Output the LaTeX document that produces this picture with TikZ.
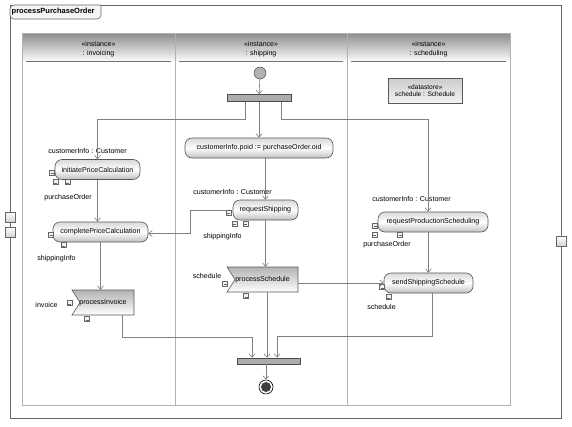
\documentclass[tikz,border=0pt]{standalone}
\usepackage{fontspec}
\setmainfont{Liberation Sans}
\usetikzlibrary{arrows.meta}
\begin{document}
\begin{tikzpicture}[x=1pt,y=-1pt,
  font=\fontsize{7.1}{9}\selectfont,
  conn/.style={draw=gray, line width=0.6pt},
  arr/.style={conn, -{Straight Barb[length=3.5pt,width=6pt]}},
  act/.style={draw=black!65, line width=0.6pt, rounded corners=7pt,
    top color=gray!30, bottom color=gray!50, middle color=white,
    minimum height=20, inner sep=1pt},
  acceptshape/.style={draw=black!65, line width=0.6pt, top color=gray!60, bottom color=white},
  plain/.style={inner sep=0pt, minimum height=25},
  store/.style={draw=black!65, line width=0.6pt, top color=gray!40, bottom color=gray!10,
    align=center, inner sep=1pt, minimum width=74, minimum height=25, font=\fontsize{6.6}{7.5}\selectfont},
  pinbox/.style={draw=black!60, line width=0.4pt, fill=gray!10, minimum size=5pt, inner sep=0pt,
    path picture={\draw[line width=0.3pt,black!60] ([shift={(1pt,1.7pt)}]path picture bounding box.south west) -- ++(3pt,0pt);}},
  fpin/.style={draw=black!60, line width=0.5pt, top color=white, bottom color=gray!35, minimum size=10pt, inner sep=0pt},
  bar/.style={draw=black!70, line width=0.5pt, fill=gray!65, inner sep=0pt},
  lbl/.style={inner sep=0pt},
  hdr/.style={align=center, inner sep=0pt, font=\fontsize{7}{9.5}\selectfont}
]
\useasboundingbox (0,0) rectangle (572,426);
\fill[white] (0,0) rectangle (572,426);

% frame
\draw[black!60, line width=0.8pt] (10,5) rectangle (561,418);
\filldraw[fill=gray!8, draw=black!60, line width=0.6pt] (10,5) -- (101,5) [rounded corners=4pt]-- (101,19) -- (10,19) -- cycle;
\node[lbl, anchor=west, font=\bfseries\fontsize{7.5}{8}\selectfont] (title) at (11.5,12) {processPurchaseOrder};

% frame pins
\node[fpin] (fp1) at (10,217) {};
\node[fpin] (fp2) at (10,232) {};
\node[fpin] (fp3) at (561,241) {};

% lanes
\shade[top color=gray!90, bottom color=white] (22,33) rectangle (510,62);
\draw[gray!60, line width=0.8pt] (22,33) rectangle (510,405);
\draw[gray!60, line width=0.8pt] (175,33) -- (175,405);
\draw[gray!60, line width=0.8pt] (347,33) -- (347,405);
\draw[black!55, line width=0.6pt] (26,61) -- (171,61);
\draw[black!55, line width=0.6pt] (179,61) -- (343,61);
\draw[black!55, line width=0.6pt] (351,61) -- (506,61);
\node[hdr] (hInv) at (98.5,49) {«instance»\\: invoicing};
\node[hdr] (hShip) at (261,49) {«instance»\\: shipping};
\node[hdr] (hSched) at (428.5,49) {«instance»\\: scheduling};

% accept event shapes
\coordinate (pic) at (103,302.5);
\draw[acceptshape] ([shift={(-31,-12.5)}]pic) -- ++(62,0) -- ++(0,25) -- ++(-62,0) -- ++(8,-12.5) -- cycle;
\coordinate (psc) at (262.5,279.5);
\draw[acceptshape] ([shift={(-35.5,-12.5)}]psc) -- ++(71,0) -- ++(0,25) -- ++(-71,0) -- ++(8,-12.5) -- cycle;

% nodes
\node[circle, draw=black!70, fill=gray!60, minimum size=12pt, inner sep=0pt, line width=0.5pt] (init) at (260,73) {};
\node[bar, minimum width=64, minimum height=7] (fork) at (259,98) {};
\node[act, minimum width=148] (poid) at (259,148) {customerInfo.poid := purchaseOrder.oid};
\node[act, minimum width=85] (ipc) at (97.5,169.5) {initiatePriceCalculation};
\node[act, minimum width=95] (cpc) at (100.5,232) {completePriceCalculation};
\node[plain, minimum width=62] (pi) at (pic) {processInvoice};
\node[act, minimum width=65] (rs) at (265.5,210) {requestShipping};
\node[plain, minimum width=71] (ps) at (psc) {processSchedule};
\node[store] (ds) at (425,90.5) {«datastore»\\schedule : Schedule};
\node[act, minimum width=110] (rps) at (433,222) {requestProductionScheduling};
\node[act, minimum width=89] (sss) at (428.5,283) {sendShippingSchedule};
\node[bar, minimum width=63, minimum height=6] (join) at (269,361) {};
\node[circle, draw=black, line width=0.6pt, fill=white, minimum size=14pt, inner sep=0pt] (final) at (266,387) {};
\node[circle, fill=black!75, minimum size=10pt, inner sep=0pt] (finalin) at (final) {};

% pins
\node[pinbox] (ipcL) at (52,172.5) {};
\node[pinbox] (ipcB1) at (55.5,182) {};
\node[pinbox] (ipcB2) at (67.5,182) {};
\node[pinbox] (cpcL) at (51,234.5) {};
\node[pinbox] (cpcB) at (63.5,245) {};
\node[pinbox] (piL) at (69.5,303) {};
\node[pinbox] (piB) at (87,319) {};
\node[pinbox] (rsL) at (228.5,212.5) {};
\node[pinbox] (rsB1) at (234.5,223.5) {};
\node[pinbox] (rsB2) at (245.5,223.5) {};
\node[pinbox] (psL) at (225,283.5) {};
\node[pinbox] (psB) at (246,296) {};
\node[pinbox] (rpsL) at (375,225.5) {};
\node[pinbox] (rpsB1) at (374.5,234.5) {};
\node[pinbox] (rpsB2) at (400,234.5) {};
\node[pinbox] (sssL) at (382,287) {};
\node[pinbox] (sssB) at (388.5,297) {};

% labels
\node[lbl] (l1) at (87.5,151) {customerInfo : Customer};
\node[lbl] (l2) at (68,198) {purchaseOrder};
\node[lbl] (l3) at (56.5,259) {shippingInfo};
\node[lbl] (l4) at (46.5,305) {invoice};
\node[lbl] (l5) at (232.5,192) {customerInfo : Customer};
\node[lbl] (l6) at (222.5,237) {shippingInfo};
\node[lbl] (l7) at (207,276) {schedule};
\node[lbl] (l8) at (411.5,199) {customerInfo : Customer};
\node[lbl] (l9) at (387,245) {purchaseOrder};
\node[lbl] (l10) at (381.5,307) {schedule};

% connectors
\draw[arr] (init) -- (fork);
\draw[arr] ([xshift=-14pt]fork.south) -- ++(0,18) -| (ipc.north);
\draw[arr] (fork.south) -- (poid.north);
\draw[arr] ([xshift=22pt]fork.south) -- ++(0,18) -| ([xshift=-5pt]rps.north);
\draw[arr] (poid.south -| rs.north) -- (rs.north);
\draw[arr] ([yshift=2.5pt]rsL.west) -- ++(-36,0) |- ([yshift=-1.5pt]cpc.east);
\draw[arr] (rs.south) -- (rs.south |- ps.north);
\draw[arr] (ps.east |- sss.west) -- (sss.west);
\draw[arr] ([xshift=4.5pt]ps.south) -- ([xshift=4.5pt]ps.south |- join.north);
\draw[arr] ([xshift=19pt]pi.south) -- ++(0,22) -| ([xshift=-17pt]join.north);
\draw[arr] ([xshift=3.5pt]sss.south) -- ++(0,43) -| ([xshift=8pt]join.north);
\draw[arr] (ipc.south) -- (ipc.south |- cpc.north);
\draw[arr] (cpc.south) -- (cpc.south |- pi.north);
\draw[arr] (sss.north |- rps.south) -- (sss.north);
\draw[arr] ([xshift=-3pt]join.south) -- (final);
\end{tikzpicture}
\end{document}
